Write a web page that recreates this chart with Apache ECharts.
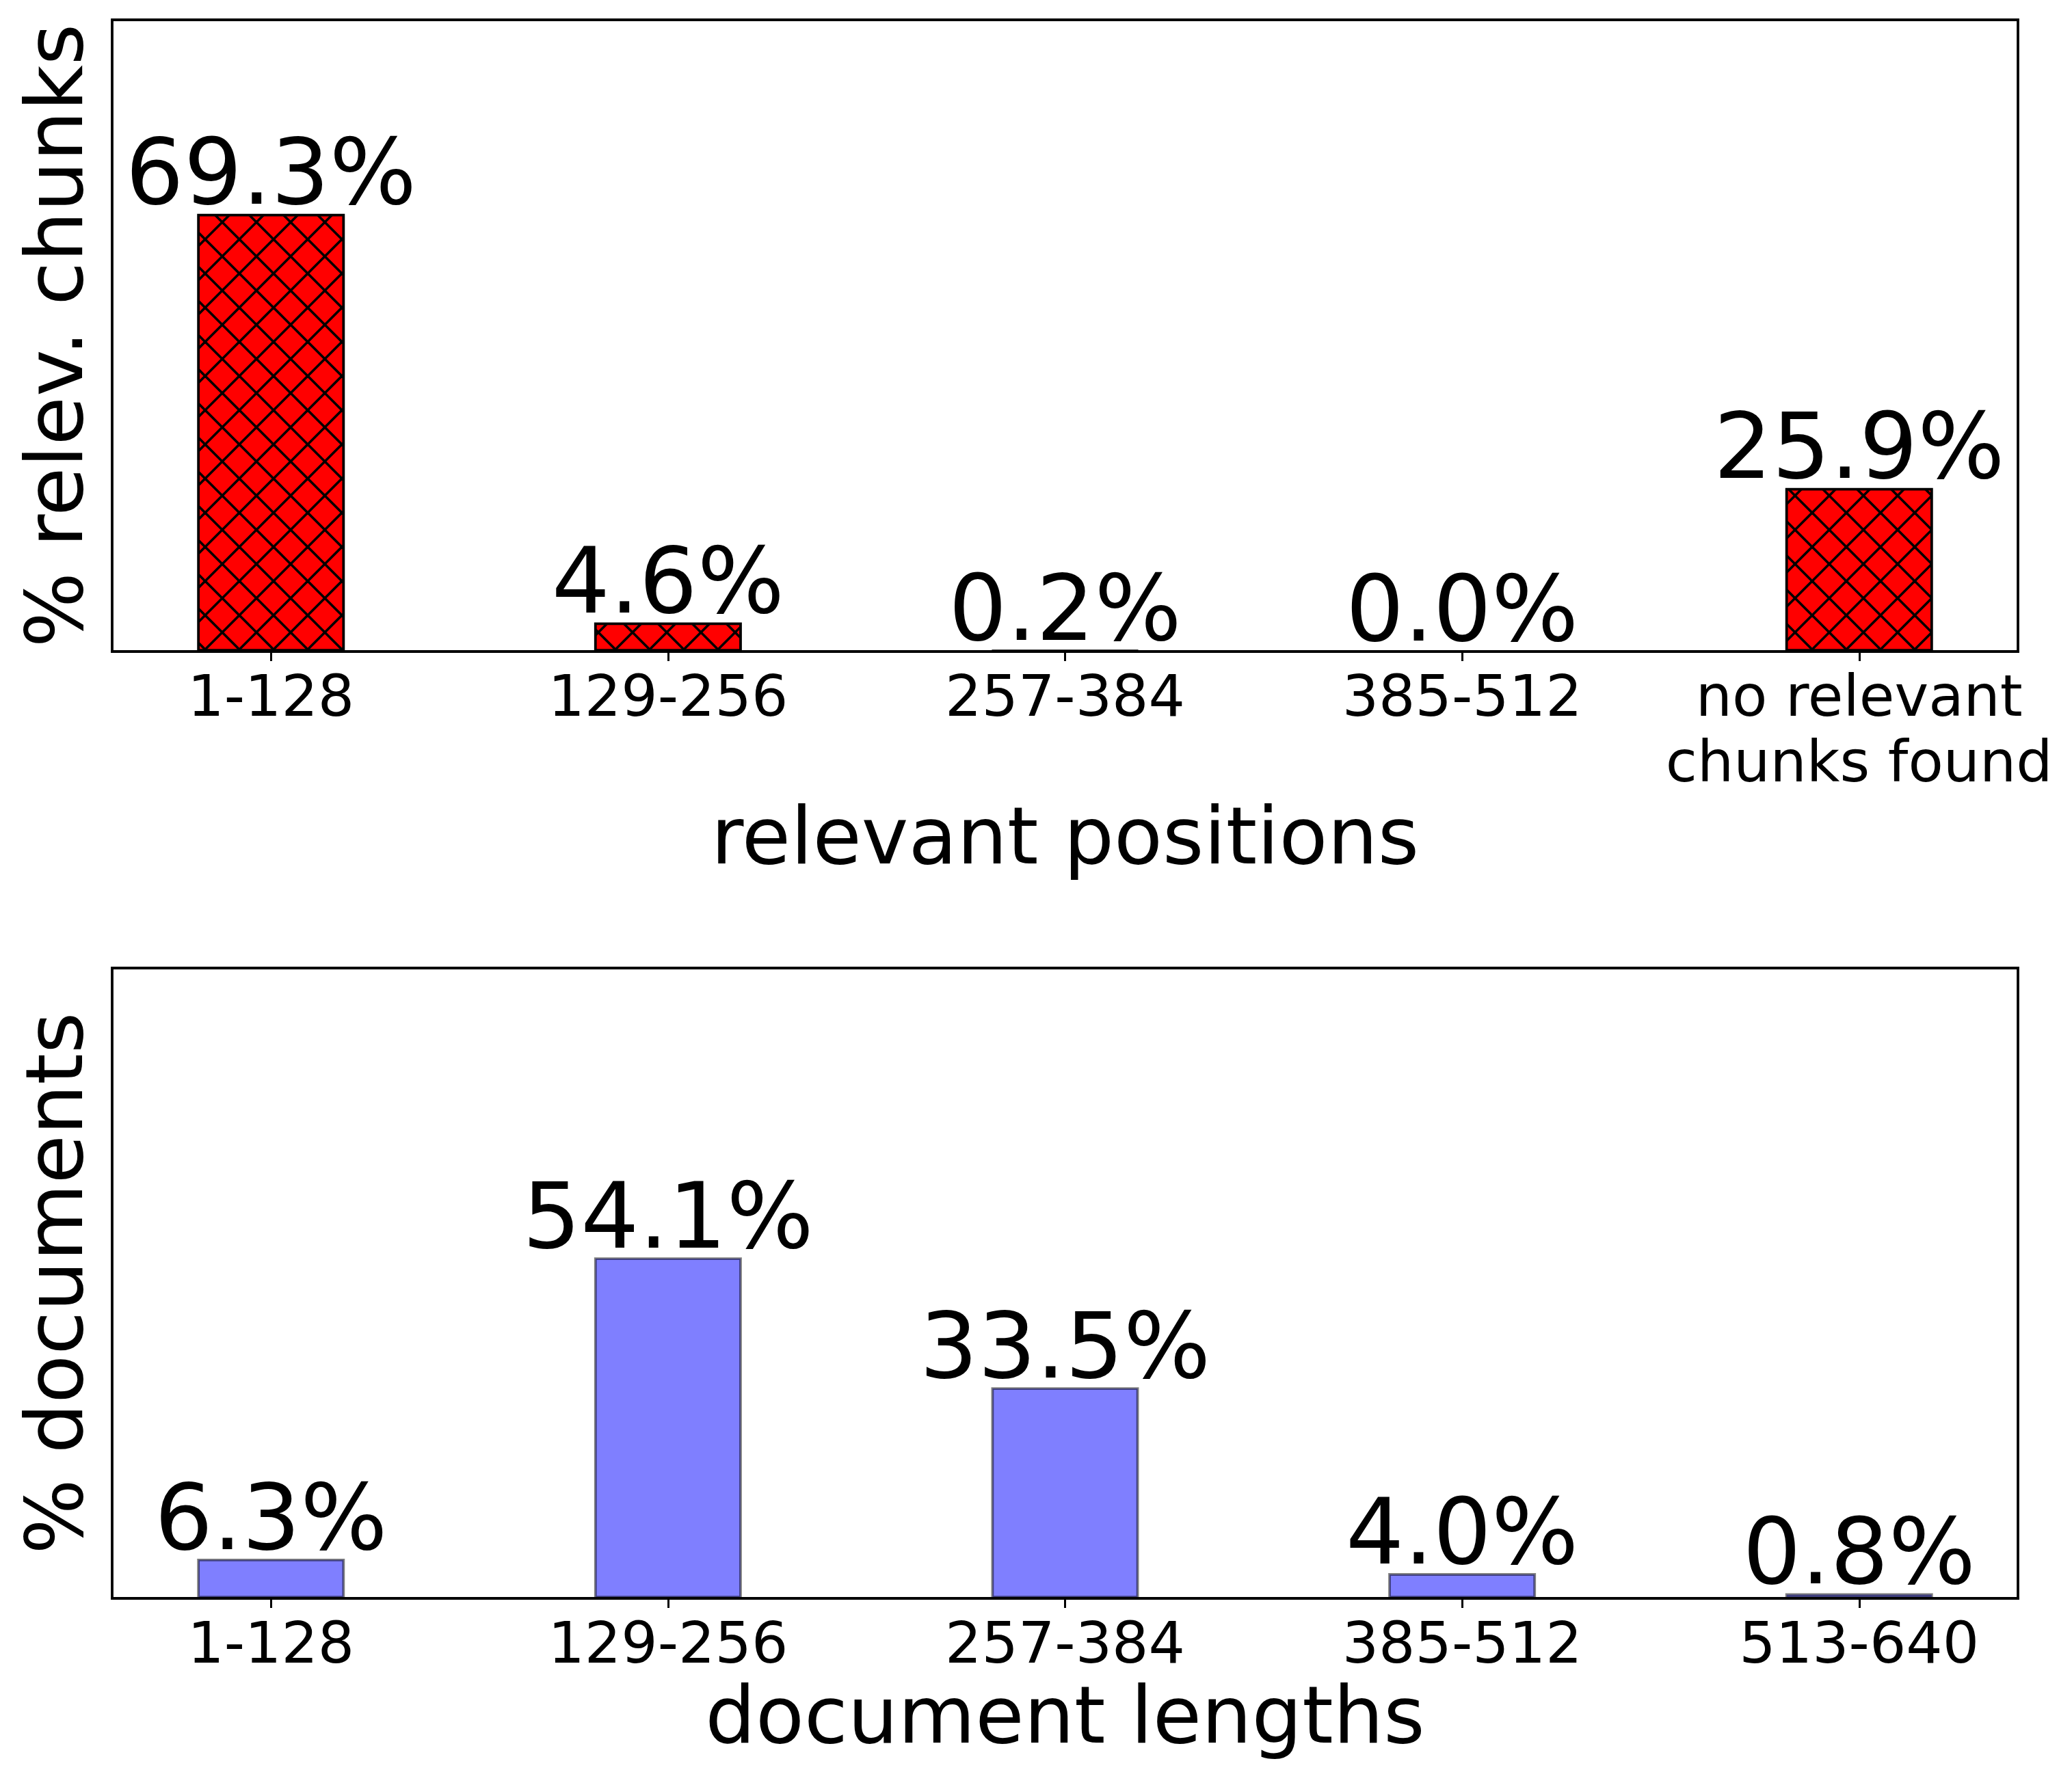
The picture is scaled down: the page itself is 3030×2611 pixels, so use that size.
<!DOCTYPE html>
<html>
<head>
<meta charset="utf-8">
<script src="https://cdn.jsdelivr.net/npm/echarts@6/dist/echarts.min.js"></script>
<style>
html,body{margin:0;padding:0;background:#fff;}
#c{width:3030px;height:2611px;}
</style>
</head>
<body>
<div id="c"></div>
<script>
// ---- data ----
const positionCats = ['1-128', '129-256', '257-384', '385-512', 'no relevant\nchunks found'];
const positionVals = [69.3, 4.6, 0.2, 0.0, 25.9];
const lengthCats = ['1-128', '129-256', '257-384', '385-512', '513-640'];
const lengthVals = [6.3, 54.1, 33.5, 4.0, 0.8];
const topXName = 'relevant positions';
const topYName = '% relev. chunks';
const botXName = 'document lengths';
const botYName = '% documents';

// ---- hatch pattern (crosshatch 'xx') ----
function makeHatch() {
  const s = 50;
  const cv = document.createElement('canvas');
  cv.width = s; cv.height = s;
  const ctx = cv.getContext('2d');
  ctx.fillStyle = '#ff0000';
  ctx.fillRect(0, 0, s, s);
  ctx.strokeStyle = '#000';
  ctx.lineWidth = 3.6;
  for (let k = -1; k <= 1; k++) {
    ctx.beginPath();
    ctx.moveTo(-s + k * s, -s); ctx.lineTo(2 * s + k * s, 2 * s);
    ctx.stroke();
    ctx.beginPath();
    ctx.moveTo(2 * s + k * s, -s); ctx.lineTo(-s + k * s, 2 * s);
    ctx.stroke();
  }
  return cv;
}
const hatch = makeHatch();

const FONT = 'DejaVu Sans';
const idx = [0, 1, 2, 3, 4];

function xAxisFor(gridIndex, cats, name, nameGap) {
  return {
    type: 'value', gridIndex: gridIndex, min: -0.4, max: 4.4,
    name: name, nameLocation: 'middle', nameGap: nameGap,
    nameTextStyle: {fontFamily: FONT, fontSize: 116, color: '#000', lineHeight: 116},
    axisLine: {show: true, onZero: false, lineStyle: {color: '#000', width: 3.8}},
    axisTick: {show: true, customValues: idx, length: 14, lineStyle: {color: '#000', width: 3}},
    axisLabel: {show: true, customValues: idx, margin: 24,
      formatter: function (v) { return cats[Math.round(v)]; },
      fontFamily: FONT, fontSize: 84, color: '#000', lineHeight: 96},
    splitLine: {show: false}
  };
}
function yAxisFor(gridIndex, name) {
  return {
    type: 'value', gridIndex: gridIndex, min: 0, max: 100,
    name: name, nameLocation: 'middle', nameGap: 16,
    nameTextStyle: {fontFamily: FONT, fontSize: 116, color: '#000', lineHeight: 116},
    axisLine: {show: false, onZero: false},
    axisTick: {show: false}, axisLabel: {show: false}, splitLine: {show: false}
  };
}
const labelCfg = {
  show: true, position: 'top', distance: -18,
  fontFamily: FONT, fontSize: 134, color: '#000', lineHeight: 134,
  formatter: function (p) { return p.value[1].toFixed(1) + '%'; }
};

const chart = echarts.init(document.getElementById('c'), null, {renderer: 'canvas'});
chart.setOption({
  backgroundColor: '#fff',
  animation: false,
  grid: [
    {left: 164, top: 29, width: 2787, height: 924, show: true, borderColor: '#000', borderWidth: 3.8, containLabel: false},
    {left: 164, top: 1416, width: 2787, height: 922, show: true, borderColor: '#000', borderWidth: 3.8, containLabel: false}
  ],
  xAxis: [xAxisFor(0, positionCats, topXName, 222), xAxisFor(1, lengthCats, botXName, 123)],
  yAxis: [yAxisFor(0, topYName), yAxisFor(1, botYName)],
  series: [
    {
      type: 'bar', xAxisIndex: 0, yAxisIndex: 0, barWidth: 216,
      data: positionVals.map(function (v, i) { return [i, v]; }),
      itemStyle: {color: {image: hatch, repeat: 'repeat'}, borderColor: '#000', borderWidth: 3.8},
      label: labelCfg
    },
    {
      type: 'bar', xAxisIndex: 1, yAxisIndex: 1, barWidth: 216,
      data: lengthVals.map(function (v, i) { return [i, v]; }),
      itemStyle: {color: 'rgba(0,0,255,0.5)', borderColor: 'rgba(0,0,0,0.5)', borderWidth: 3.8},
      label: labelCfg
    }
  ]
});
</script>
</body>
</html>
